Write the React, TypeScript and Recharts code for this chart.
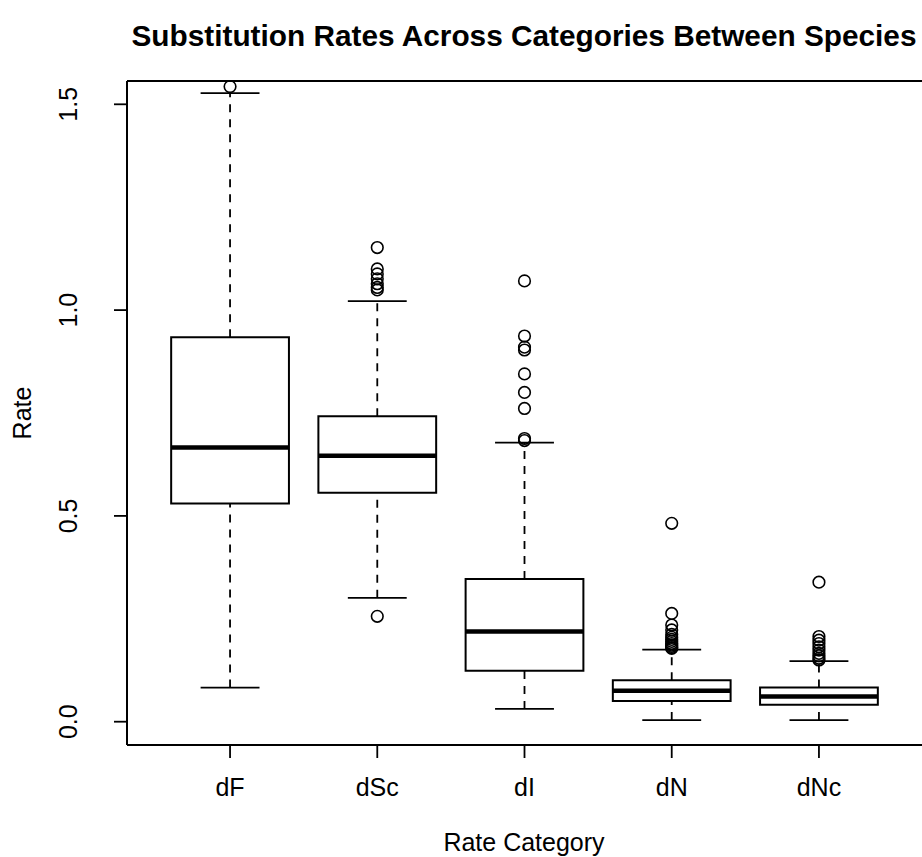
import React from "react";
import {
  ComposedChart,
  XAxis,
  YAxis,
  Scatter,
  ReferenceArea,
  ReferenceLine,
  Label,
} from "recharts";

const categories = ["dF", "dSc", "dI", "dN", "dNc"];
const lowerWhisker = [0.083, 0.301, 0.031, 0.004, 0.004];
const q1 = [0.53, 0.556, 0.124, 0.05, 0.041];
const median = [0.666, 0.646, 0.219, 0.075, 0.061];
const q3 = [0.934, 0.742, 0.347, 0.101, 0.083];
const upperWhisker = [1.527, 1.022, 0.678, 0.175, 0.147];

const outliersDF = [1.543];
const outliersDSc = [1.152, 1.1, 1.088, 1.076, 1.064, 1.055, 1.049, 0.256];
const outliersDI = [1.071, 0.937, 0.91, 0.903, 0.845, 0.8, 0.761, 0.688, 0.683];
const outliersDN = [0.482, 0.263, 0.235, 0.223, 0.212, 0.205, 0.2, 0.195, 0.19, 0.186, 0.183, 0.18, 0.178];
const outliersDNc = [0.339, 0.207, 0.198, 0.19, 0.182, 0.174, 0.166, 0.16, 0.154, 0.15];

const yTicks = [0, 0.5, 1, 1.5];

const FONT = "'Liberation Sans', Arial, Helvetica, sans-serif";
const BOX_HALF = 0.4;
const CAP_HALF = 0.2;
const X_MIN = 0.3;
const X_MAX = 5.7;
const Y_MIN = -0.0566;
const Y_MAX = 1.5566;

const outlierPoints = [outliersDF, outliersDSc, outliersDI, outliersDN, outliersDNc].flatMap(
  (vals, i) => vals.map((v) => ({ x: i + 1, y: v }))
);

const OpenCircle = (props: any) => (
  <circle cx={props.cx} cy={props.cy} r={5.8} fill="none" stroke="#000" strokeWidth={1.6} />
);

const XTick = (props: any) => (
  <text x={props.x} y={796} textAnchor="middle" fontFamily={FONT} fontSize={25} fill="#000">
    {categories[props.payload.value - 1]}
  </text>
);

const YTick = (props: any) => (
  <text
    x={77}
    y={props.y}
    transform={`rotate(-90 77 ${props.y})`}
    textAnchor="middle"
    fontFamily={FONT}
    fontSize={25}
    fill="#000"
  >
    {props.payload.value.toFixed(1)}
  </text>
);

export default function App() {
  return (
    <div style={{ position: "absolute", left: 0, top: 0, width: 922, height: 857, background: "#fff" }}>
      <ComposedChart width={922} height={857} margin={{ top: 81, right: 0, bottom: 0, left: 0 }}>
        <XAxis
          type="number"
          dataKey="x"
          domain={[X_MIN, X_MAX]}
          ticks={[1, 2, 3, 4, 5]}
          allowDataOverflow
          height={112}
          axisLine={false}
          tickLine={{ stroke: "#000", strokeWidth: 1.8 }}
          tickSize={13}
          tick={<XTick />}
          interval={0}
        >
          <Label
            content={() => (
              <text x={524} y={851} textAnchor="middle" fontFamily={FONT} fontSize={25} fill="#000">
                Rate Category
              </text>
            )}
          />
        </XAxis>
        <YAxis
          type="number"
          dataKey="y"
          domain={[Y_MIN, Y_MAX]}
          ticks={yTicks}
          allowDataOverflow
          width={127}
          axisLine={false}
          tickLine={{ stroke: "#000", strokeWidth: 1.8 }}
          tickSize={13}
          tick={<YTick />}
          interval={0}
        >
          <Label
            content={() => (
              <text
                x={31}
                y={413}
                transform="rotate(-90 31 413)"
                textAnchor="middle"
                fontFamily={FONT}
                fontSize={25}
                fill="#000"
              >
                Rate
              </text>
            )}
          />
        </YAxis>

        {/* plot frame (right side falls outside the picture) */}
        <ReferenceLine segment={[{ x: X_MIN, y: Y_MAX }, { x: X_MAX, y: Y_MAX }]} stroke="#000" strokeWidth={2} ifOverflow="visible" />
        <ReferenceLine segment={[{ x: X_MIN, y: Y_MIN }, { x: X_MAX, y: Y_MIN }]} stroke="#000" strokeWidth={2} ifOverflow="visible" />
        <ReferenceLine segment={[{ x: X_MIN, y: Y_MIN }, { x: X_MIN, y: Y_MAX }]} stroke="#000" strokeWidth={2} ifOverflow="visible" />

        {categories.map((c, i) => {
          const x = i + 1;
          return (
            <React.Fragment key={c}>
              <ReferenceLine
                segment={[{ x, y: q3[i] }, { x, y: upperWhisker[i] }]}
                stroke="#000"
                strokeWidth={1.8}
                strokeDasharray="8 7"
              />
              <ReferenceLine
                segment={[{ x, y: lowerWhisker[i] }, { x, y: q1[i] }]}
                stroke="#000"
                strokeWidth={1.8}
                strokeDasharray="8 7"
              />
              <ReferenceLine
                segment={[{ x: x - CAP_HALF, y: upperWhisker[i] }, { x: x + CAP_HALF, y: upperWhisker[i] }]}
                stroke="#000"
                strokeWidth={1.8}
              />
              <ReferenceLine
                segment={[{ x: x - CAP_HALF, y: lowerWhisker[i] }, { x: x + CAP_HALF, y: lowerWhisker[i] }]}
                stroke="#000"
                strokeWidth={1.8}
              />
              <ReferenceArea
                x1={x - BOX_HALF}
                x2={x + BOX_HALF}
                y1={q1[i]}
                y2={q3[i]}
                fill="#fff"
                fillOpacity={1}
                stroke="#000"
                strokeWidth={2}
              />
              <ReferenceLine
                segment={[{ x: x - BOX_HALF, y: median[i] }, { x: x + BOX_HALF, y: median[i] }]}
                stroke="#000"
                strokeWidth={4.5}
              />
            </React.Fragment>
          );
        })}

        <Scatter data={outlierPoints} dataKey="y" shape={<OpenCircle />} isAnimationActive={false} />

        <text
          x={524}
          y={46}
          textAnchor="middle"
          fontFamily={FONT}
          fontWeight="bold"
          fontSize={29.5}
          fill="#000"
          textLength={785}
          lengthAdjust="spacingAndGlyphs"
        >
          Substitution Rates Across Categories Between Species
        </text>
      </ComposedChart>
    </div>
  );
}
